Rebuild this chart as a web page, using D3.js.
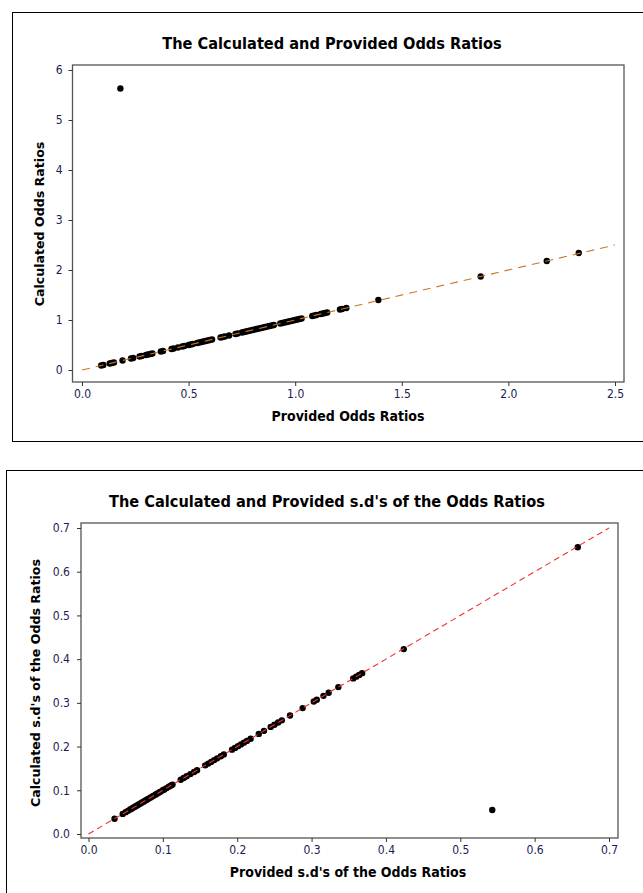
<!DOCTYPE html>
<html>
<head>
<meta charset="utf-8">
<script src="https://cdn.jsdelivr.net/npm/d3@7"></script>
<style>
  body { margin: 0; background: #fff; }
  svg { display: block; }
  .tick text { font-family: "DejaVu Sans Condensed", "DejaVu Sans", sans-serif; font-stretch: condensed; font-size: 12px; fill: #1c1c50; }
  .titre { font-family: "Liberation Sans Narrow", "DejaVu Sans Condensed", sans-serif; font-stretch: condensed; font-weight: bold; }
  .etiqY { font-family: "DejaVu Sans", sans-serif; font-weight: bold; }
</style>
</head>
<body>
<div id="graphe"></div>
<script>
//----------------------------------------------------------------
// données
//----------------------------------------------------------------
// graphe du haut : odds ratios fournis / calculés
var orFournis = [0.09, 0.10, 0.13, 0.14, 0.15, 0.18, 0.19, 0.23, 0.24, 0.27, 0.28, 0.30, 0.31, 0.32, 0.33,
    0.37, 0.38, 0.42, 0.43, 0.45, 0.47, 0.48, 0.50, 0.51, 0.52, 0.54, 0.55, 0.56, 0.57, 0.58,
    0.59, 0.60, 0.61, 0.65, 0.66, 0.67, 0.69, 0.72, 0.73, 0.75, 0.76, 0.77, 0.78, 0.79, 0.80,
    0.81, 0.82, 0.83, 0.84, 0.85, 0.86, 0.87, 0.88, 0.89, 0.90, 0.93, 0.94, 0.95, 0.96, 0.97,
    0.98, 0.99, 1.00, 1.01, 1.02, 1.03, 1.08, 1.09, 1.10, 1.12, 1.13, 1.14, 1.15, 1.21, 1.22,
    1.24, 1.39, 1.87, 2.18, 2.33];
var orCalcules = [0.09, 0.10, 0.13, 0.14, 0.15, 5.63, 0.19, 0.23, 0.24, 0.27, 0.28, 0.30, 0.31, 0.32, 0.33,
    0.37, 0.38, 0.42, 0.43, 0.45, 0.47, 0.48, 0.50, 0.51, 0.52, 0.54, 0.55, 0.56, 0.57, 0.58,
    0.59, 0.60, 0.61, 0.65, 0.66, 0.67, 0.69, 0.72, 0.73, 0.75, 0.76, 0.77, 0.78, 0.79, 0.80,
    0.81, 0.82, 0.83, 0.84, 0.85, 0.86, 0.87, 0.88, 0.89, 0.90, 0.93, 0.94, 0.95, 0.96, 0.97,
    0.98, 0.99, 1.00, 1.01, 1.02, 1.03, 1.08, 1.09, 1.10, 1.12, 1.13, 1.14, 1.15, 1.21, 1.22,
    1.24, 1.40, 1.87, 2.18, 2.34];

// graphe du bas : écarts-types fournis / calculés
var sdFournis = [0.035, 0.046, 0.050, 0.053, 0.056, 0.058, 0.060, 0.062, 0.064, 0.066, 0.068, 0.070,
    0.072, 0.074, 0.076, 0.078, 0.080, 0.083, 0.085, 0.087, 0.090, 0.092, 0.095, 0.097, 0.100,
    0.102, 0.105, 0.108, 0.111, 0.113, 0.124, 0.128, 0.132, 0.137, 0.142, 0.146, 0.157, 0.161,
    0.165, 0.169, 0.173, 0.178, 0.182, 0.193, 0.197, 0.201, 0.205, 0.209, 0.213, 0.218, 0.229,
    0.236, 0.245, 0.250, 0.255, 0.260, 0.271, 0.288, 0.303, 0.307, 0.316, 0.323, 0.336, 0.356,
    0.360, 0.364, 0.368, 0.424, 0.543, 0.658];
var sdCalcules = [0.035, 0.046, 0.050, 0.053, 0.056, 0.058, 0.060, 0.062, 0.064, 0.066, 0.068, 0.070,
    0.072, 0.074, 0.076, 0.078, 0.080, 0.083, 0.085, 0.087, 0.090, 0.092, 0.095, 0.097, 0.100,
    0.102, 0.105, 0.108, 0.111, 0.113, 0.124, 0.128, 0.132, 0.137, 0.142, 0.146, 0.157, 0.161,
    0.165, 0.169, 0.173, 0.178, 0.182, 0.193, 0.197, 0.201, 0.205, 0.209, 0.213, 0.218, 0.229,
    0.236, 0.245, 0.250, 0.255, 0.260, 0.271, 0.288, 0.303, 0.307, 0.316, 0.323, 0.336, 0.356,
    0.360, 0.364, 0.368, 0.423, 0.055, 0.656];

var ticksX1 = [0.0, 0.5, 1.0, 1.5, 2.0, 2.5];
var ticksY1 = [0, 1, 2, 3, 4, 5, 6];
var ticksXY2 = [0.0, 0.1, 0.2, 0.3, 0.4, 0.5, 0.6, 0.7];

//----------------------------------------------------------------
// svg principal
//----------------------------------------------------------------
var svg = d3.select("#graphe")
    .append("svg")
    .attr("width", 643)
    .attr("height", 893);

svg.append("rect").attr("width", 643).attr("height", 893).attr("fill", "#fff");

//----------------------------------------------------------------
// dessine un panneau (cadre, axes, diagonale, points)
//----------------------------------------------------------------
function dessinePanneau(p) {
    // cadre extérieur
    svg.append("rect")
        .attr("x", p.cadre[0] + 0.5).attr("y", p.cadre[1] + 0.5)
        .attr("width", p.cadre[2]).attr("height", p.cadre[3])
        .attr("fill", "none").attr("stroke", "#000").attr("stroke-width", 1);

    var x = d3.scaleLinear().domain(p.domX).range(p.plageX);
    var y = d3.scaleLinear().domain(p.domY).range(p.plageY);

    // boîte du graphe
    svg.append("rect")
        .attr("x", p.boite[0]).attr("y", p.boite[1])
        .attr("width", p.boite[2] - p.boite[0]).attr("height", p.boite[3] - p.boite[1])
        .attr("fill", "none").attr("stroke", "#555").attr("stroke-width", 1.3);

    var axeX = svg.append("g")
        .attr("transform", "translate(0," + p.boite[3] + ")")
        .call(d3.axisBottom(x).tickValues(p.ticksX).tickFormat(p.formatX).tickSize(4).tickPadding(3));
    var axeY = svg.append("g")
        .attr("transform", "translate(" + p.boite[0] + ",0)")
        .call(d3.axisLeft(y).tickValues(p.ticksY).tickFormat(p.formatY).tickSize(4).tickPadding(p.padY));
    [axeX, axeY].forEach(function(a) {
        a.select(".domain").remove();
        a.selectAll(".tick line").attr("stroke", "#333");
    });

    // points
    svg.append("g").selectAll("circle")
        .data(p.xs.map(function(v, i) { return [v, p.ys[i]]; }))
        .join("circle")
        .attr("cx", function(d) { return x(d[0]); })
        .attr("cy", function(d) { return y(d[1]); })
        .attr("r", 3.2)
        .attr("fill", "#000");

    // diagonale y = x par-dessus les points
    svg.append("line")
        .attr("x1", x(0)).attr("y1", y(0))
        .attr("x2", x(p.finDiag)).attr("y2", y(p.finDiag))
        .attr("stroke", p.couleur).attr("stroke-width", 1.1)
        .attr("stroke-dasharray", p.tirets);

    // titres
    svg.append("text").attr("class", "titre")
        .attr("x", p.titrePos[0]).attr("y", p.titrePos[1])
        .attr("text-anchor", "middle").attr("font-size", 16.2)
        .text(p.titre);
    svg.append("text").attr("class", "titre")
        .attr("x", p.etiqXPos[0]).attr("y", p.etiqXPos[1])
        .attr("text-anchor", "middle").attr("font-size", 14)
        .text(p.etiqX);
    svg.append("text").attr("class", "etiqY")
        .attr("transform", "translate(" + p.etiqYPos[0] + "," + p.etiqYPos[1] + ") rotate(-90)")
        .attr("text-anchor", "middle").attr("font-size", 12.6)
        .text(p.etiqY);
}

dessinePanneau({
    cadre: [12, 12, 640, 429],
    boite: [72.5, 65, 624, 382],
    domX: [0, 2.5], plageX: [82, 615],
    domY: [0, 6], plageY: [370, 70],
    ticksX: ticksX1, ticksY: ticksY1,
    formatX: d3.format(".1f"), formatY: d3.format("d"), padY: 6,
    xs: orFournis, ys: orCalcules,
    finDiag: 2.5, couleur: "#c87828", tirets: "8,6",
    titre: "The Calculated and Provided Odds Ratios", titrePos: [332, 49],
    etiqX: "Provided Odds Ratios", etiqXPos: [348, 421],
    etiqY: "Calculated Odds Ratios", etiqYPos: [44, 224]
});

dessinePanneau({
    cadre: [6, 470, 650, 440],
    boite: [81, 523, 618, 838],
    domX: [0, 0.7], plageX: [88.5, 609],
    domY: [0, 0.7], plageY: [834, 528],
    ticksX: ticksXY2, ticksY: ticksXY2,
    formatX: d3.format(".1f"), formatY: d3.format(".1f"), padY: 7,
    xs: sdFournis, ys: sdCalcules,
    finDiag: 0.7, couleur: "#f03030", tirets: "6,4",
    titre: "The Calculated and Provided s.d's of the Odds Ratios", titrePos: [327, 507],
    etiqX: "Provided s.d's of the Odds Ratios", etiqXPos: [348, 877],
    etiqY: "Calculated s.d's of the Odds Ratios", etiqYPos: [40, 683]
});
</script>
</body>
</html>
